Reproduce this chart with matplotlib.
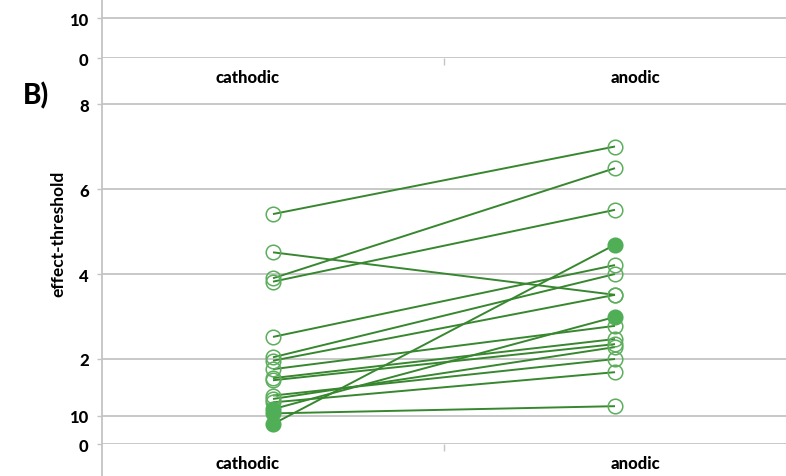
import matplotlib
matplotlib.use("Agg")
import matplotlib.pyplot as plt
from matplotlib.lines import Line2D

plt.rcParams['font.family'] = ['Lato', 'DejaVu Sans']

categories = ["cathodic", "anodic"]
label_offsets = [-0.073, 0.061]

# bottom panel (B): effect-threshold, one line per subject
cathodic = [5.41, 4.51, 3.90, 3.82, 2.52, 2.04, 1.96, 1.76, 1.55, 1.50, 1.14, 1.06, 0.98, 0.82, 0.72, 0.47]
anodic   = [7.00, 3.51, 6.49, 5.51, 4.21, 4.00, 3.51, 2.78, 2.47, 2.35, 2.00, 2.28, 1.69, 2.99, 0.89, 4.69]
cath_filled = [False]*13 + [True, True, True]
anod_filled = [False]*13 + [True, False, True]

bottom_ticks = [0, 0.66, 2, 4, 6, 8]
bottom_ticklabels = ["0", "10", "2", "4", "6", "8"]
top_ticks = [0, 10]
top_ticklabels = ["0", "10"]

W, H = 786, 477
fig = plt.figure(figsize=(W/100, H/100), dpi=100)

grid_c = "#c4c4c4"
line_c = "#37872f"
edge_c = "#5cae5c"
fill_c = "#4fae56"

def style(ax, ticks, labels):
    ax.set_xlim(-0.5, 1.5)
    for s in ax.spines.values():
        s.set_visible(False)
    ax.set_yticks(ticks)
    ax.set_yticklabels(labels, fontsize=12, fontweight="black")
    ax.tick_params(axis="y", length=3.6, width=1, color=grid_c, pad=6)
    ax.grid(axis="y", color=grid_c, linewidth=1.3)
    ax.set_axisbelow(True)
    ax.set_xticks([i + o for i, o in enumerate(label_offsets)])
    ax.set_xticklabels(categories, fontsize=12, fontweight="black")
    ax.set_xticks([0.5], minor=True)
    ax.tick_params(axis="x", which="major", length=0, pad=8)
    ax.tick_params(axis="x", which="minor", length=5, width=1, color=grid_c)
    ax.patch.set_alpha(0)

# top panel (cropped remains of panel A)
ax_top = fig.add_axes([102/W, 1 - 59/H, 1 - 102/W, 59/H])
ax_top.set_ylim(0, 59/4)
style(ax_top, top_ticks, top_ticklabels)

# bottom panel B
ax = fig.add_axes([102/W, 1 - 445/H, 1 - 102/W, (445 - 88)/H])
ax.set_ylim(0, (445 - 88)/42.5)
style(ax, bottom_ticks, bottom_ticklabels)

for c, a, cf, af in zip(cathodic, anodic, cath_filled, anod_filled):
    ax.plot([0, 1], [c, a], color=line_c, lw=1.4, zorder=3, solid_capstyle="butt")
    for x, y, f in ((0, c, cf), (1, a, af)):
        ax.plot([x], [y], marker="o", markersize=10.5,
                markerfacecolor=fill_c if f else "none",
                markeredgecolor=fill_c if f else edge_c,
                markeredgewidth=1.1, zorder=4, clip_on=False)

# shared left axis line
fig.add_artist(Line2D([102/W, 102/W], [0, 1], transform=fig.transFigure,
                      color=grid_c, lw=1.3))

fig.text(36/W, 1 - 96/H, "B)", fontsize=20, fontweight="black",
         ha="center", va="center")
fig.text(58/W, 1 - 234/H, "effect-threshold", fontsize=12.5, fontweight="bold",
         rotation=90, ha="center", va="center")

fig.savefig("out.png", dpi=100)
